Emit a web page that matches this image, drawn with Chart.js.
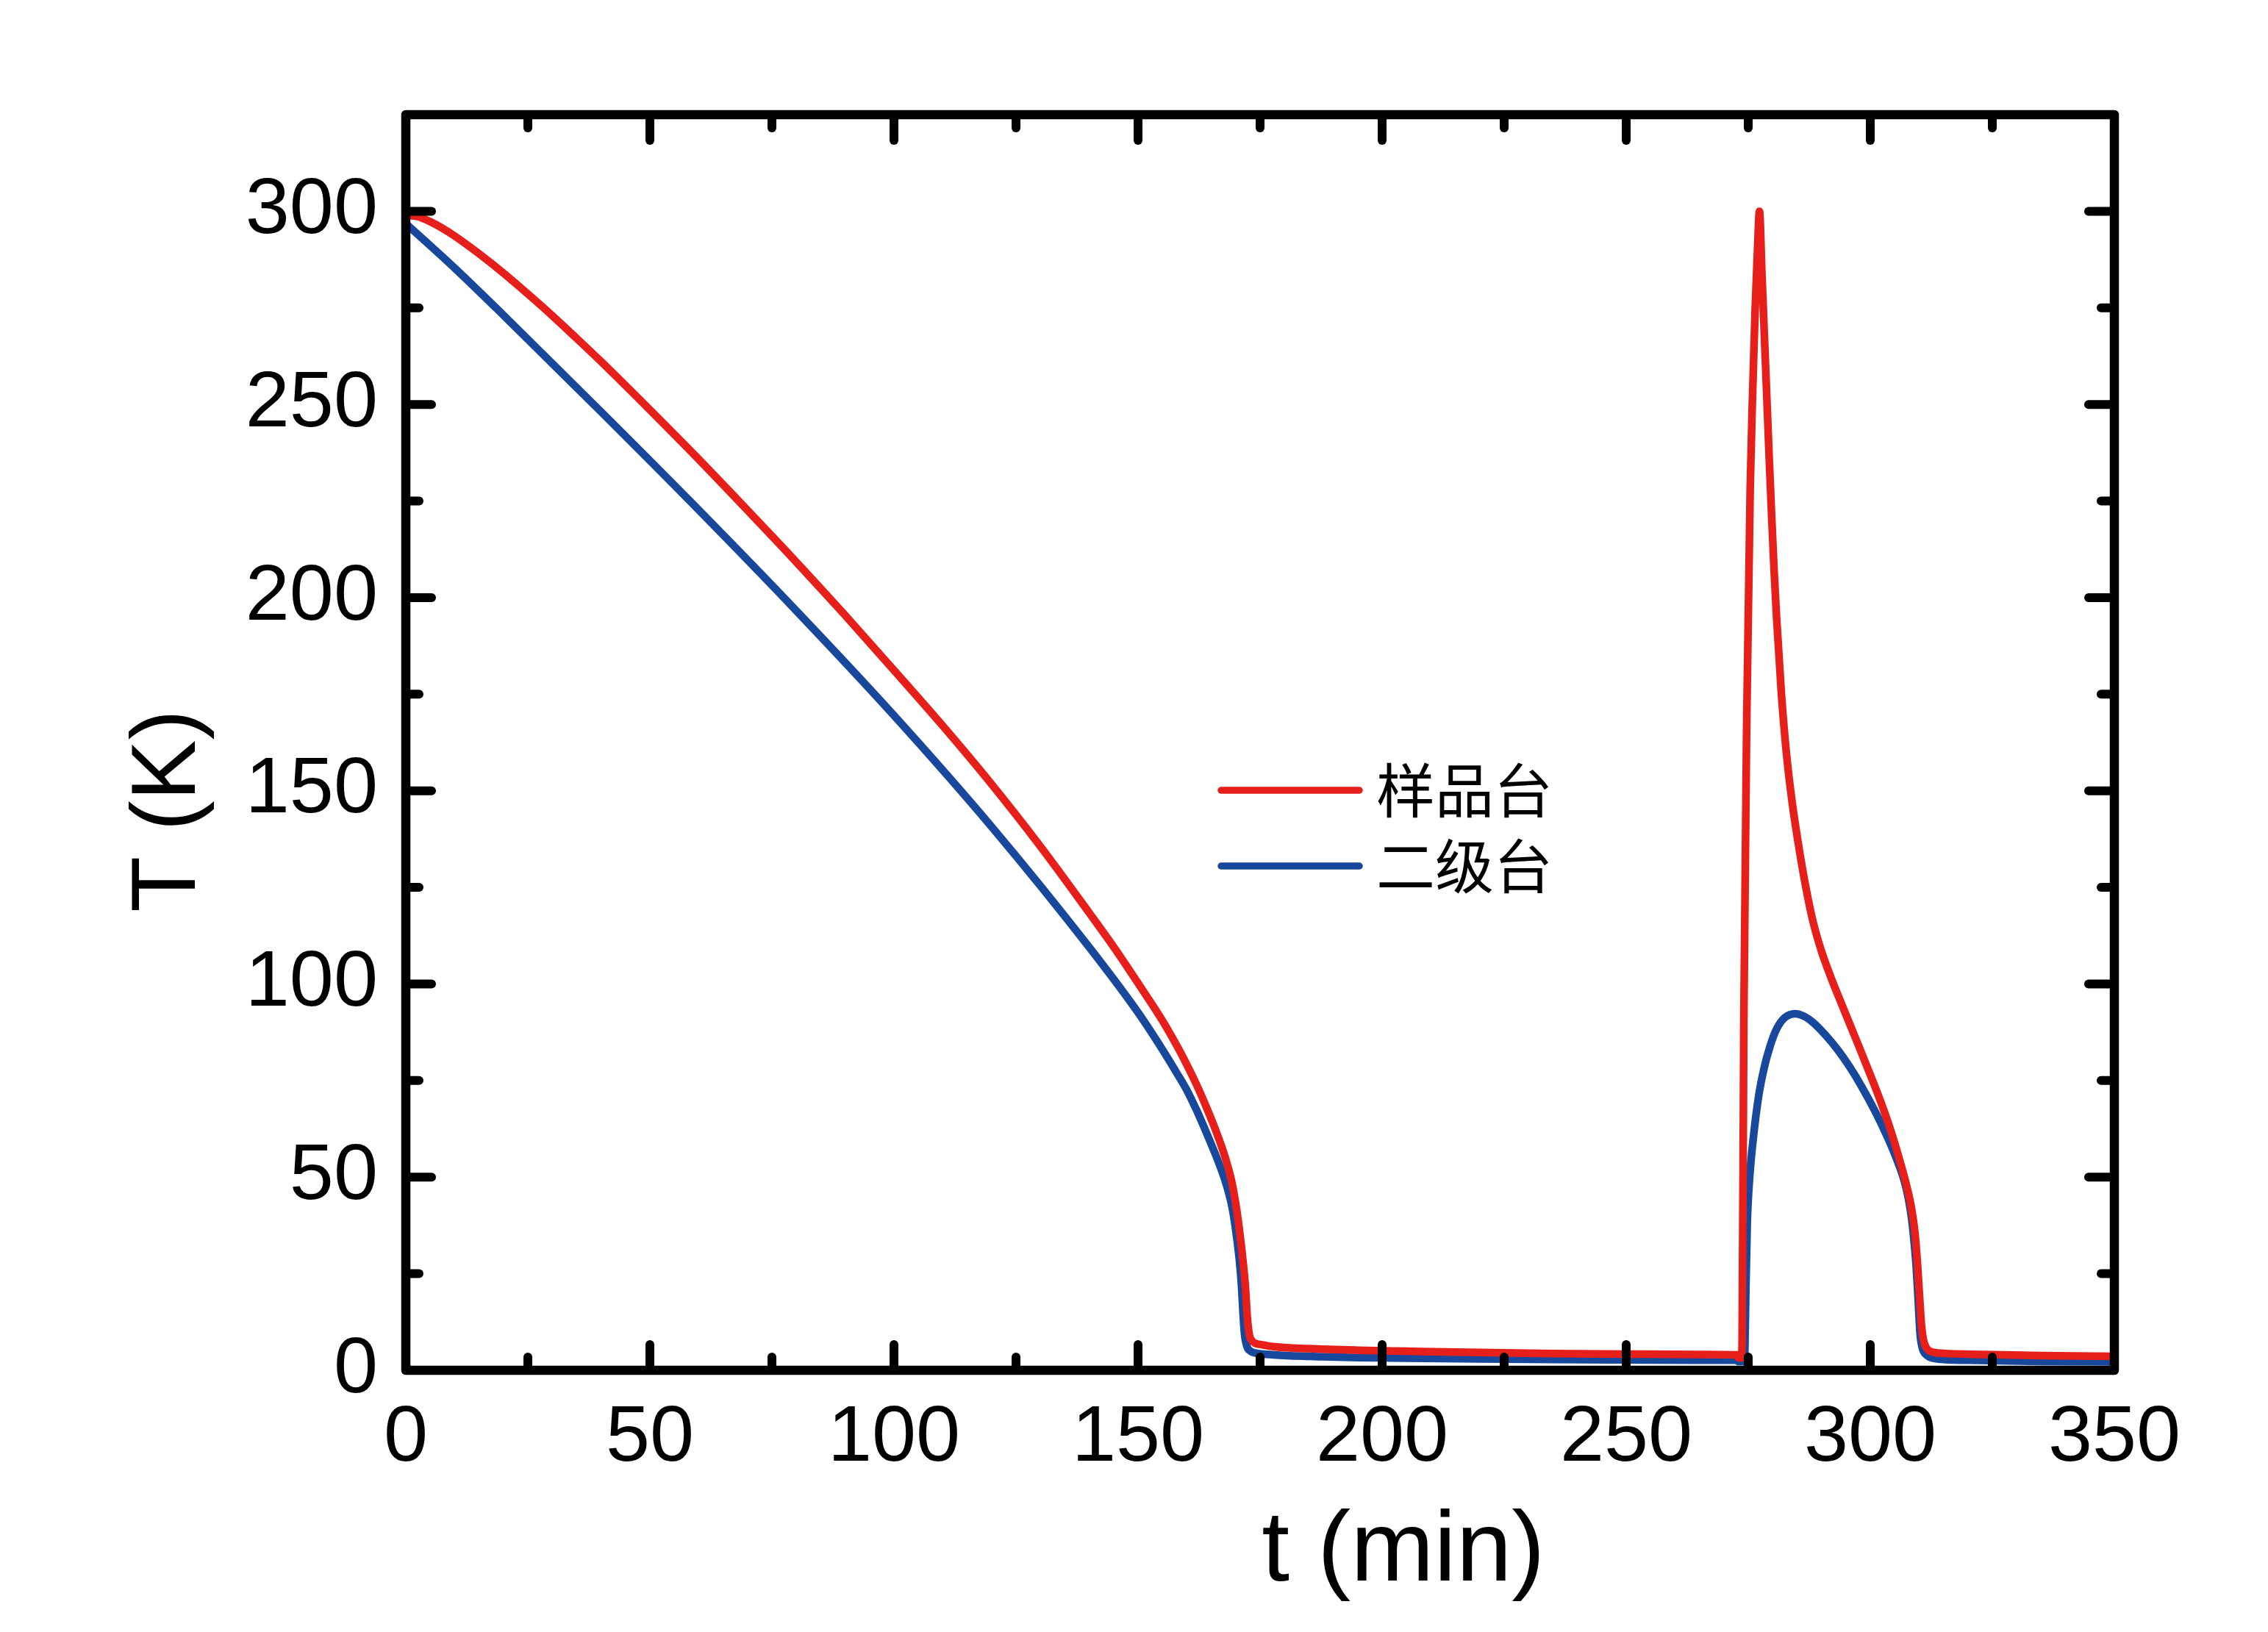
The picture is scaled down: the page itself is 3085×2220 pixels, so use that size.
<!DOCTYPE html>
<html>
<head>
<meta charset="utf-8">
<script src="https://cdn.jsdelivr.net/npm/chart.js@4.4.1/dist/chart.umd.min.js"></script>
<style>
html,body{margin:0;padding:0;background:#fff;}
canvas{display:block;}
</style>
</head>
<body>
<canvas id="c" width="3085" height="2220"></canvas>
<script>
// ---- data ----
const seriesNames = ['样品台', '二级台'];

const redTime = [0,2.5,5,7.5,10,15,20,25,30,35,40,50,60,70,80,90,100,110,120,130,140,145,150,155,158,160,162,164,166,168,169.2,170.1,170.9,171.5,172,172.4,172.8,173.3,174,175.5,178,185,195,205,220,235,250,265,272.6,272.9,273.6,273.75,274.1,274.7,275.4,275.9,276.4,276.9,277.3,277.8,278.3,278.8,279.3,279.8,280.3,280.8,281.8,282.8,284,285.3,286.8,288.3,290,292,294,296,298,300,302,304,306,307.5,308.5,309.2,309.7,310.1,310.5,310.9,311.5,312.3,315,323.5,335,350];
const redTemp = [299,298.6,297.3,295.6,293.6,289,284,278.6,273,267.1,261.1,248.6,235.8,222.6,209.2,195.4,181.2,166.8,151.7,135.6,118.4,109.6,100.2,90.5,83.9,79.1,73.9,68.1,61.8,54.5,48.8,42.4,35,28.3,21.5,13.5,9.2,7.7,7,6.6,6.1,5.6,5.2,4.95,4.6,4.35,4.2,4.1,4,3.3,3.2,8,91,169,228,253,274,290,300,284,268,252,236,221,207,195,175,160,147,136,125,116,108.5,101.5,95.2,89,82.8,76.5,70,62.8,54.5,47.5,41.5,35,27,19,11.5,7.8,5.8,4.9,4.4,4.1,3.8,3.6];

const blueTime = [0,10,20,40,60,80,100,120,140,150,155,158,160,162,163.5,165,166.5,168.2,169.3,170.2,170.8,171.2,171.5,171.8,172.3,173,174,177.8,185,195,205,220,235,250,265,272.6,272.9,274.2,274.3,274.5,274.8,275.3,276.3,277.2,278.3,279.5,280.8,282.5,284.6,286.5,288.3,290.8,293.3,295.8,298.3,301,303.4,305.3,306.9,307.8,308.5,309,309.4,309.8,310.2,310.7,311.4,313,320,335,350];
const blueTemp = [296.8,285.3,273.1,248.1,222.7,196.6,169.5,140.7,109.5,92.6,83,76.8,72.5,67.3,63,58.5,53.8,47.6,42,34.5,28,21.8,15,9.5,6.2,5,4.5,4,3.6,3.3,3.15,2.95,2.8,2.7,2.6,2.6,2.3,2.3,5,20,38,50,63,71.5,78.5,84,88.3,91.3,92.3,91.6,90,86.8,83,78.5,73.3,67,60.7,55,49.3,44.5,39,33,27,18.5,9.5,5.6,4.1,3.1,2.6,2.3,2.2];

const xTicks = [0,50,100,150,200,250,300,350];
const yTicks = [0,50,100,150,200,250,300];
const xMinorTicks = [25,75,125,175,225,275,325];
const yMinorTicks = [25,75,125,175,225,275];
const xTitle = 't (min)';
const yTitle = 'T (K)';

const RED = 'rgb(231,31,26)';
const BLUE = 'rgb(24,72,156)';

const toXY = (ts, vs) => ts.map((t, i) => ({x: t, y: vs[i]}));

// ---- plugin: frame, inward ticks, axis titles, legend ----
const decor = {
  id: 'decor',
  afterDatasetsDraw(chart) {
    const {ctx, chartArea: a, scales: {x, y}} = chart;
    ctx.save();
    ctx.strokeStyle = '#000';
    ctx.lineCap = 'round';
    ctx.lineWidth = 12;
    const major = 35, minor = 18;
    xTicks.forEach(v => {
      const px = x.getPixelForValue(v);
      ctx.beginPath(); ctx.moveTo(px, a.bottom); ctx.lineTo(px, a.bottom - major); ctx.stroke();
      ctx.beginPath(); ctx.moveTo(px, a.top); ctx.lineTo(px, a.top + major); ctx.stroke();
    });
    xMinorTicks.forEach(v => {
      const px = x.getPixelForValue(v);
      ctx.beginPath(); ctx.moveTo(px, a.bottom); ctx.lineTo(px, a.bottom - minor); ctx.stroke();
      ctx.beginPath(); ctx.moveTo(px, a.top); ctx.lineTo(px, a.top + minor); ctx.stroke();
    });
    yTicks.forEach(v => {
      const py = y.getPixelForValue(v);
      ctx.beginPath(); ctx.moveTo(a.left, py); ctx.lineTo(a.left + major, py); ctx.stroke();
      ctx.beginPath(); ctx.moveTo(a.right, py); ctx.lineTo(a.right - major, py); ctx.stroke();
    });
    yMinorTicks.forEach(v => {
      const py = y.getPixelForValue(v);
      ctx.beginPath(); ctx.moveTo(a.left, py); ctx.lineTo(a.left + minor, py); ctx.stroke();
      ctx.beginPath(); ctx.moveTo(a.right, py); ctx.lineTo(a.right - minor, py); ctx.stroke();
    });
    // frame
    ctx.lineWidth = 12.5;
    ctx.lineJoin = 'round';
    ctx.strokeRect(a.left, a.top, a.right - a.left, a.bottom - a.top);
    ctx.restore();
  },
  afterDraw(chart) {
    const {ctx} = chart;
    ctx.save();
    ctx.fillStyle = '#000';
    // axis titles
    ctx.font = '136px "Liberation Sans", Arial, sans-serif';
    ctx.textAlign = 'center';
    ctx.textBaseline = 'alphabetic';
    ctx.fillText(xTitle, 1909, 2150);
    ctx.save();
    ctx.translate(265, 1103);
    ctx.rotate(-Math.PI / 2);
    ctx.font = '124px "Liberation Sans", Arial, sans-serif';
    ctx.fillText(yTitle, 0, 0);
    ctx.restore();
    // legend
    const rows = [1075, 1178];
    chart.data.datasets.forEach((ds, i) => {
      const yy = rows[i];
      ctx.strokeStyle = ds.borderColor;
      ctx.lineWidth = 9.5;
      ctx.lineCap = 'round';
      ctx.beginPath(); ctx.moveTo(1661, yy); ctx.lineTo(1849, yy); ctx.stroke();
      ctx.fillStyle = '#000';
      ctx.font = '80px "Noto Sans CJK SC", sans-serif';
      ctx.textAlign = 'left';
      ctx.textBaseline = 'middle';
      ctx.fillText(ds.label, 1872, yy);
    });
    ctx.restore();
  }
};

new Chart(document.getElementById('c'), {
  type: 'line',
  data: {
    datasets: [
      {label: seriesNames[0], data: toXY(redTime, redTemp), borderColor: RED, borderWidth: 10.5, pointRadius: 0, cubicInterpolationMode: 'monotone', borderJoinStyle: 'round', borderCapStyle: 'round', fill: false},
      {label: seriesNames[1], data: toXY(blueTime, blueTemp), borderColor: BLUE, borderWidth: 10.5, pointRadius: 0, cubicInterpolationMode: 'monotone', borderJoinStyle: 'round', borderCapStyle: 'round', fill: false}
    ]
  },
  options: {
    responsive: false,
    devicePixelRatio: 1,
    animation: false,
    layout: {padding: {left: 0, top: 156, right: 209, bottom: 0}},
    plugins: {legend: {display: false}, tooltip: {enabled: false}},
    scales: {
      x: {
        type: 'linear', min: 0, max: 350,
        afterBuildTicks: s => { s.ticks = xTicks.map(v => ({value: v})); },
        afterFit: s => { s.height = 356; },
        grid: {display: false, drawTicks: false},
        border: {display: false},
        ticks: {color: '#000', padding: 28, maxRotation: 0, autoSkip: false,
                font: {family: '"Liberation Sans", Arial, sans-serif', size: 108}}
      },
      y: {
        type: 'linear', min: 0, max: 325,
        afterBuildTicks: s => { s.ticks = yTicks.map(v => ({value: v})); },
        afterFit: s => { s.width = 552; },
        grid: {display: false, drawTicks: false},
        border: {display: false},
        ticks: {color: '#000', padding: 38, autoSkip: false,
                font: {family: '"Liberation Sans", Arial, sans-serif', size: 108}}
      }
    }
  },
  plugins: [decor]
});
</script>
</body>
</html>
